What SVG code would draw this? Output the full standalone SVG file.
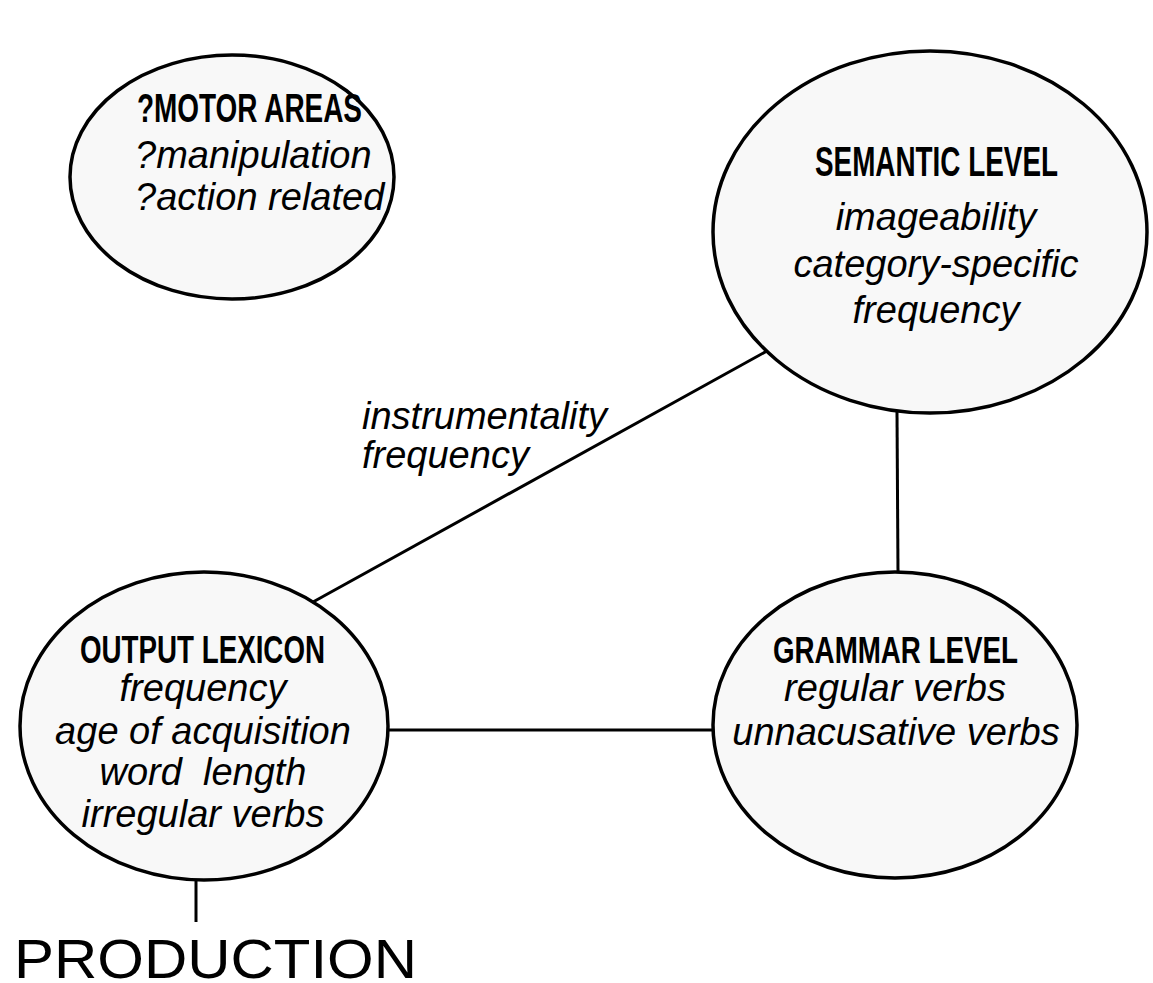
<svg xmlns="http://www.w3.org/2000/svg" width="1153" height="983" viewBox="0 0 1153 983">
<style>
.node{fill:#f8f8f8;stroke:#000;stroke-width:3.5}
.conn line{stroke:#000;stroke-width:3}
.t{font-family:"Liberation Sans",Arial,sans-serif;font-weight:bold;fill:#000}
.i{font-family:"Liberation Sans",Arial,sans-serif;font-style:italic;font-size:38px;fill:#000}
</style>
<rect width="1153" height="983" fill="#fff"/>
<g id="connectors" class="conn">
<line x1="313" y1="602" x2="767" y2="351"/>
<line x1="897" y1="412" x2="898" y2="573"/>
<line x1="387" y1="730" x2="714" y2="730"/>
<line x1="196" y1="879" x2="196" y2="922"/>
</g>
<g id="motor">
<ellipse class="node" cx="232" cy="177" rx="162" ry="122"/>
<text class="t" x="137" y="122" font-size="41" textLength="225" lengthAdjust="spacingAndGlyphs">?MOTOR AREAS</text>
<text class="i" x="135" y="168">?manipulation</text>
<text class="i" x="135" y="210">?action related</text>
</g>
<g id="semantic">
<ellipse class="node" cx="930" cy="232" rx="217" ry="181"/>
<text class="t" x="815" y="176" font-size="43" textLength="243" lengthAdjust="spacingAndGlyphs">SEMANTIC LEVEL</text>
<g class="i" text-anchor="middle">
<text x="936" y="230">imageability</text>
<text x="936" y="277">category-specific</text>
<text x="936" y="323">frequency</text>
</g>
</g>
<g id="output">
<ellipse class="node" cx="204" cy="726" rx="184" ry="154"/>
<text class="t" x="80" y="663" font-size="39" textLength="245" lengthAdjust="spacingAndGlyphs">OUTPUT LEXICON</text>
<g class="i" text-anchor="middle">
<text x="203" y="701">frequency</text>
<text x="203" y="744">age of acquisition</text>
<text x="203" y="785" xml:space="preserve">word  length</text>
<text x="203" y="827">irregular verbs</text>
</g>
</g>
<g id="grammar">
<ellipse class="node" cx="895" cy="725" rx="182" ry="153"/>
<text class="t" x="773" y="663" font-size="37" textLength="245" lengthAdjust="spacingAndGlyphs">GRAMMAR LEVEL</text>
<g class="i" text-anchor="middle">
<text x="895" y="701">regular verbs</text>
<text x="896" y="745">unnacusative verbs</text>
</g>
</g>
<g id="edge-label">
<text class="i" x="362" y="429">instrumentality</text>
<text class="i" x="362" y="468">frequency</text>
</g>
<g id="production">
<text x="14" y="978" font-family="Liberation Sans,Arial,sans-serif" font-size="55" textLength="403" lengthAdjust="spacingAndGlyphs">PRODUCTION</text>
</g>
</svg>
